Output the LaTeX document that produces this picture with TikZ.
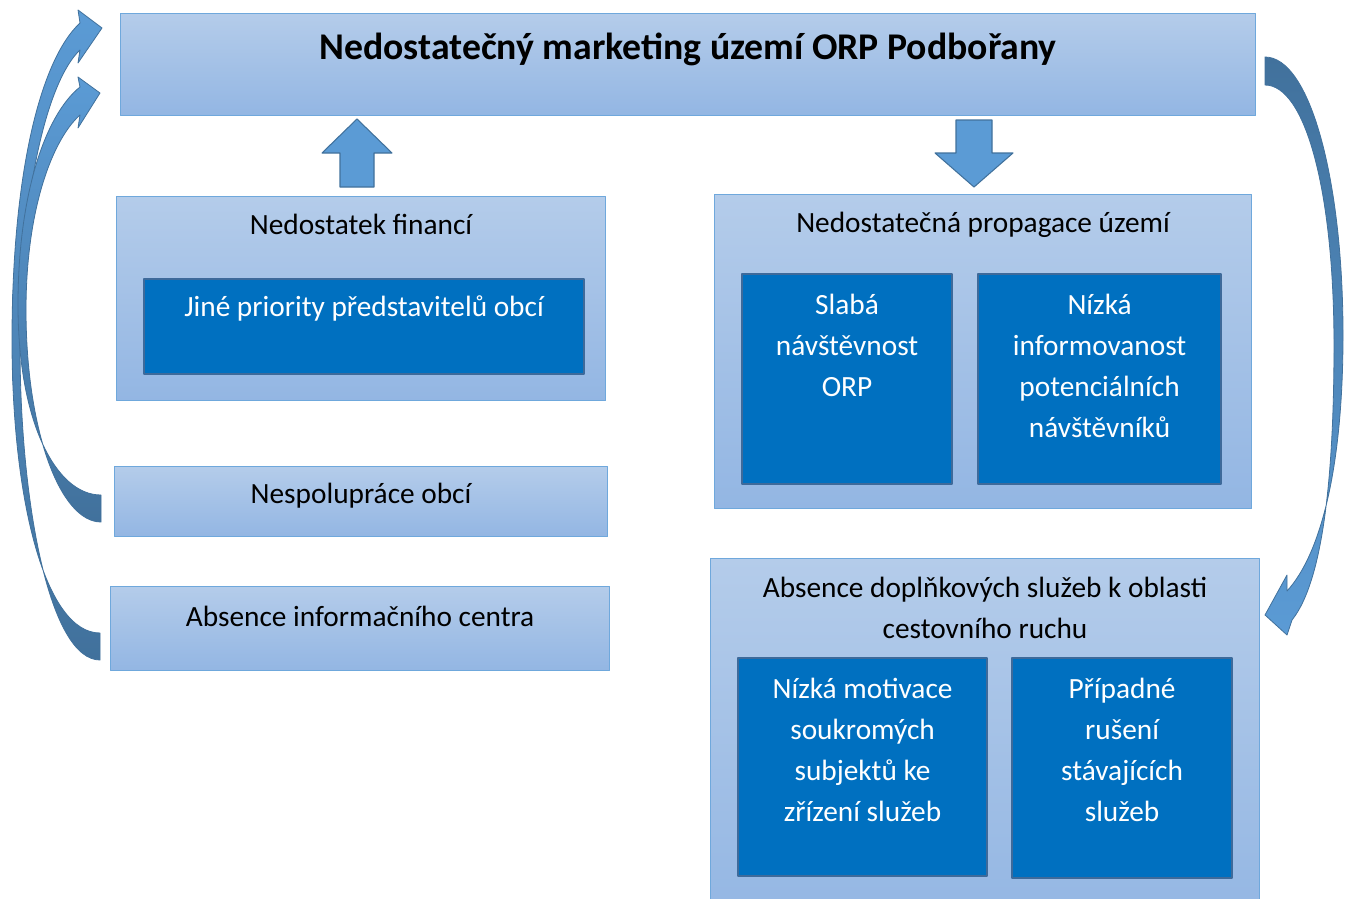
\documentclass[tikz,border=0pt]{standalone}
\usepackage{fontspec}
\setmainfont{Carlito}
\usetikzlibrary{positioning}
\definecolor{paneltop}{HTML}{B4CCEA}
\definecolor{panelbot}{HTML}{93B6E3}
\definecolor{panelrim}{HTML}{6FA8DC}
\definecolor{deep}{HTML}{0070C0}
\definecolor{deeprim}{HTML}{3E6A9A}
\definecolor{arrlt}{HTML}{5B9BD5}
\definecolor{arrdk}{HTML}{41719C}
\tikzset{fig/.style={line join=round,x=0.75pt,y=-0.75pt},
  panel/.style 2 args={draw=panelrim,line width=0.8pt,top color=paneltop,bottom color=panelbot,minimum width=#1*0.75pt,minimum height=#2*0.75pt,anchor=north west,inner sep=0pt},
  deepbox/.style 2 args={draw=deeprim,line width=1.6pt,fill=deep,minimum width=#1*0.75pt,minimum height=#2*0.75pt,anchor=north west,inner sep=0pt},
  lbl/.style={font=\fontsize{22}{30.75}\selectfont,align=center,inner sep=0pt,anchor=center},
  wlbl/.style={lbl,text=white},
  blockarr/.style={draw=arrdk,line width=0.8pt,fill=arrlt},
  bentarr/.style={draw=arrdk,line width=0.6pt}}

\begin{document}
\begin{tikzpicture}[fig]
  \useasboundingbox (0,0) rectangle (1346,899);
  \node[panel={1135}{102}] (top) at (120,13) {};
  \node[lbl,below=27.5pt of top.north,anchor=center,font=\fontsize{28.3}{34}\selectfont\bfseries] (toptxt) {Nedostatečný marketing území ORP Podbořany};
  % left column
  \node[panel={489}{204}] (fin) at (116,196) {};
  \node[lbl,below=21pt of fin.north,anchor=center] (fintxt) {Nedostatek financí};
  \node[deepbox={440}{95}] (prio) at (143,278) {};
  \node[wlbl,below=22.5pt of prio.north,anchor=center] (priotxt) {Jiné priority představitelů obcí};
  \node[panel={493}{70}] (nesp) at (114,466) {};
  \node[lbl,below=22.5pt of nesp.north,anchor=center] (nesptxt) {Nespolupráce obcí};
  \node[panel={499}{84}] (absic) at (110,586) {};
  \node[lbl,below=22.5pt of absic.north,anchor=center] (absictxt) {Absence informačního centra};
  % right column
  \node[panel={537}{314}] (prop) at (714,194) {};
  \node[lbl,below=23.25pt of prop.north,anchor=center] (proptxt) {Nedostatečná propagace území};
  \node[deepbox={210}{210}] (slaba) at (741,273) {};
  \node[wlbl,below=54pt of slaba.north,anchor=center] (slabatxt) {Slabá\\návštěvnost\\ORP};
  \node[deepbox={243}{210}] (infor) at (977,273) {};
  \node[wlbl,below=69.75pt of infor.north,anchor=center] (infortxt) {Nízká\\informovanost\\potenciálních\\návštěvníků};
  \node[panel={549}{370}] (sluz) at (710,558) {};
  \node[lbl,below=37.5pt of sluz.north,anchor=center] (sluztxt) {Absence doplňkových služeb k oblasti\\cestovního ruchu};
  \node[deepbox={249}{218}] (motiv) at (737,657) {};
  \node[wlbl,below=69.75pt of motiv.north,anchor=center] (motivtxt) {Nízká motivace\\soukromých\\subjektů ke\\zřízení služeb};
  \node[deepbox={220}{220}] (rus) at (1011,657) {};
  \node[wlbl,below=69.75pt of rus.north,anchor=center] (rustxt) {Případné\\rušení\\stávajících\\služeb};
  % block arrows
  \draw[blockarr] (357,119)--(392,153)--(374,153)--(374,187)--(340,187)--(340,153)--(322,153)--cycle;
  \draw[blockarr] (956,120)--(992,120)--(992,153)--(1013,153)--(974,187)--(935,153)--(956,153)--cycle;
  \draw[bentarr,top color=arrlt,bottom color=arrdk] (100,633) .. controls (45,633) and (12,500) .. (12,340) .. controls (12,175) and (40,60) .. (80,23) -- (78,10) -- (102,28) -- (78,63) -- (80,50) .. controls (48,80) and (20,190) .. (20,345) .. controls (20,505) and (50,660) .. (100,660) -- cycle;
  \draw[bentarr,top color=arrlt,bottom color=arrdk] (101,495) .. controls (55,495) and (18,420) .. (18,305) .. controls (18,195) and (45,115) .. (80,87) -- (78,77) -- (100,93) -- (78,128) -- (80,115) .. controls (52,140) and (26,210) .. (26,310) .. controls (26,430) and (60,522) .. (101,522) -- cycle;
  \draw[bentarr,top color=arrdk,bottom color=arrlt] (1265,57) .. controls (1310,57) and (1343,180) .. (1343,335) .. controls (1343,470) and (1320,555) .. (1287,591) -- (1287,575) -- (1265,615) -- (1287,635) -- (1292,620) .. controls (1324,580) and (1334,470) .. (1334,345) .. controls (1334,190) and (1305,85) .. (1265,85) -- cycle;
\end{tikzpicture}
\end{document}
